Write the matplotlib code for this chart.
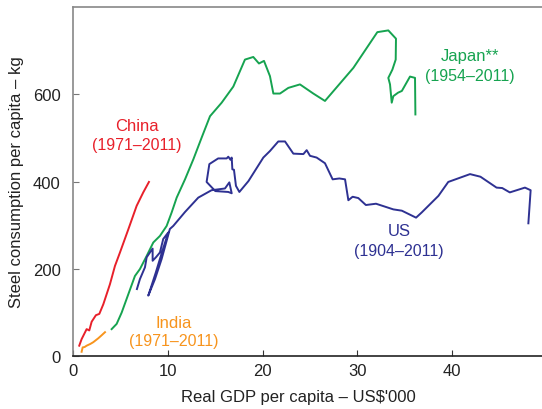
import matplotlib.pyplot as plt

plt.rcParams['font.family'] = ['Liberation Sans', 'DejaVu Sans']

# GDP per capita (US$'000) and steel consumption per capita (kg)
china_x = [0.63, 0.88, 1.41, 1.69, 1.94, 2.39, 2.75, 3.17, 3.87, 4.4, 4.93, 5.81, 6.69, 7.39, 7.99]
china_y = [23, 38, 61, 58, 78, 93, 96, 118, 164, 206, 237, 290, 344, 375, 399]

india_x = [0.88, 0.99, 1.2, 1.41, 1.8, 2.11, 2.64, 3.0, 3.35]
india_y = [9, 19, 20, 23, 27, 31, 40, 47, 54]

japan_x = [4.05, 4.58, 5.11, 5.81, 6.51, 7.04, 7.75, 8.45, 9.15, 9.86, 10.39, 10.92, 11.8,
           12.68, 13.56, 14.44, 15.67, 16.9, 18.13, 19.01, 19.61, 20.14, 20.77, 21.13, 21.83,
           22.71, 23.94, 25.35, 26.58, 29.58, 32.11, 33.27, 34.08, 34.05, 33.7, 33.27, 33.45,
           33.63, 33.8, 34.3, 34.7, 35.56, 36.09, 36.13]
japan_y = [61, 73, 99, 141, 183, 199, 229, 260, 275, 298, 329, 363, 405,
           451, 501, 550, 581, 618, 680, 686, 671, 677, 642, 602, 602,
           615, 623, 602, 585, 661, 743, 747, 728, 680, 657, 638, 623,
           581, 596, 604, 608, 641, 638, 554]

us_x = [6.72, 7.04, 7.57, 7.75, 8.0, 8.38, 8.38, 8.73, 9.15, 9.5, 10.03, 9.4, 8.7, 7.92,
        8.63, 9.33, 10.2, 10.56, 11.8, 13.2, 14.6, 16.02, 16.48, 16.73, 16.37, 15.0, 14.08,
        14.37, 15.3, 16.2, 16.37, 16.6, 16.73, 16.8, 16.97, 17.18, 17.54, 18.5, 20.07, 20.77,
        21.65, 22.36, 23.24, 24.3, 24.65, 25.0, 25.7, 26.58, 27.39, 28.1, 28.7, 29.05, 29.5,
        30.1, 30.9, 31.97, 33.8, 34.7, 36.2, 36.8, 38.56, 39.6, 41.9, 43.0, 44.7, 45.3, 46.1,
        47.7, 48.3, 48.06]
us_y = [153, 176, 203, 226, 234, 246, 218, 226, 237, 268, 283, 240, 190, 138,
        176, 222, 291, 298, 330, 363, 380, 384, 398, 373, 376, 378, 399,
        440, 453, 453, 457, 450, 455, 428, 427, 390, 376, 401, 455, 470,
        492, 492, 464, 463, 472, 459, 455, 442, 405, 407, 405, 357, 365,
        362, 346, 349, 336, 333, 317, 329, 367, 399, 417, 411, 386, 385, 375,
        386, 380, 304]

red = '#e8202a'
orange = '#f7941d'
green = '#16a350'
blue = '#2e3192'

fig = plt.figure(figsize=(5.42, 4.10), dpi=100)
ax = fig.add_axes([0.1352, 0.130, 0.8648, 0.8497])

ax.plot(china_x, china_y, color=red, lw=1.4)
ax.plot(india_x, india_y, color=orange, lw=1.4)
ax.plot(japan_x, japan_y, color=green, lw=1.4)
ax.plot(us_x, us_y, color=blue, lw=1.4)

fs = 12
fs2 = 11.5
ax.text(6.7, 529, "China", color=red, ha='center', va='center', fontsize=fs)
ax.text(6.7, 485, "(1971–2011)", color=red, ha='center', va='center', fontsize=fs2)
ax.text(10.6, 77, "India", color=orange, ha='center', va='center', fontsize=fs)
ax.text(10.6, 34, "(1971–2011)", color=orange, ha='center', va='center', fontsize=fs2)
ax.text(41.9, 690, "Japan**", color=green, ha='center', va='center', fontsize=fs)
ax.text(41.9, 644, "(1954–2011)", color=green, ha='center', va='center', fontsize=fs2)
ax.text(34.4, 287, "US", color=blue, ha='center', va='center', fontsize=fs)
ax.text(34.4, 241, "(1904–2011)", color=blue, ha='center', va='center', fontsize=fs2)

ax.set_xlim(0, 49.5)
ax.set_ylim(0, 800)
ax.set_xticks([0, 10, 20, 30, 40])
ax.set_yticks([0, 200, 400, 600])
ax.tick_params(direction='in', length=4, labelsize=12, labelcolor='#222222', pad=5)
ax.tick_params(axis='y', pad=9, color='#777777')
ax.tick_params(axis='x', color='#333333')

ax.spines['right'].set_visible(False)
ax.spines['left'].set_color('#888888')
ax.spines['top'].set_color('#888888')
ax.spines['bottom'].set_color('#222222')
for s in ax.spines.values():
    s.set_linewidth(1.2)

ax.set_xlabel("Real GDP per capita – US$'000", fontsize=12, color='#222222')
ax.set_ylabel("Steel consumption per capita – kg", fontsize=12, color='#222222')
ax.xaxis.set_label_coords(0.48, -0.095)
ax.yaxis.set_label_coords(-0.105, 0.5)

fig.savefig("out.png", dpi=100)
